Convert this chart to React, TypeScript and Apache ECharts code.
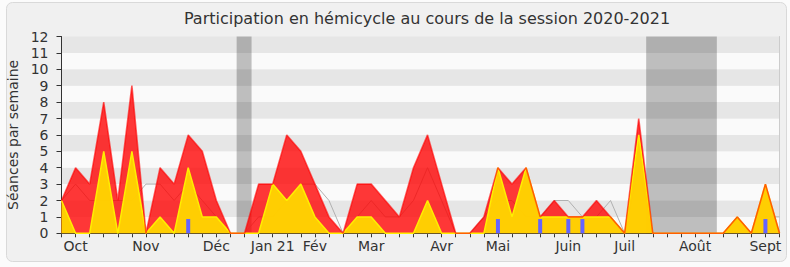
import React, { useEffect, useRef } from 'react';
import * as echarts from 'echarts';

// Month labels and the week index where each is centred
const monthNames = ['Oct', 'Nov', 'Déc', 'Jan 21', 'Fév', 'Mar', 'Avr', 'Mai', 'Juin', 'Juil', 'Août', 'Sept'];
const monthWeeks = [1, 6, 11, 15, 18, 22, 27, 31, 36, 40, 45, 50];

// Weekly values (52 weeks)
const presence = [2, 4, 3, 8, 2, 9, 0, 4, 3, 6, 5, 2, 0, 0, 3, 3, 6, 5, 3, 1, 0, 3, 3, 2, 1, 4, 6, 3, 0, 0, 1, 4, 3, 4, 1, 2, 1, 1, 2, 1, 0, 7, 0, 0, 0, 0, 0, 0, 1, 0, 3, 0];
const participation = [2, 0, 0, 5, 0, 5, 0, 1, 0, 4, 1, 1, 0, 0, 0, 3, 2, 3, 1, 0, 0, 1, 1, 0, 0, 0, 2, 0, 0, 0, 0, 4, 1, 4, 1, 1, 1, 1, 1, 1, 0, 6, 0, 0, 0, 0, 0, 0, 1, 0, 3, 0];
const median = [2, 3, 2, 2, 2, 2, 3, 3, 2, 3, 2, 1, 0, 0, 1, 1, 2, 3, 3, 2, 0, 1, 2, 1, 1, 2, 4, 2, 0, 0, 1, 2, 2, 1, 1, 2, 2, 1, 1, 2, 0, 4, 0, 0, 0, 0, 0, 0, 1, 0, 1, 1];
const questions = [0, 0, 0, 0, 0, 0, 0, 0, 0, 0.87, 0, 0, 0, 0, 0, 0, 0, 0, 0, 0, 0, 0, 0, 0, 0, 0, 0, 0, 0, 0, 0, 0.87, 0, 0, 0.87, 0, 0.87, 0.87, 0, 0, 0, 0, 0, 0, 0, 0, 0, 0, 0, 0, 0.87, 0];

// Parliamentary breaks (in week units)
const vacationStart = [12.44, 41.53];
const vacationEnd = [13.5, 46.55];

const FONT = 'DejaVu Sans';

export default function App() {
  const ref = useRef<HTMLDivElement>(null);

  useEffect(() => {
    const chart = echarts.init(ref.current!, null, { renderer: 'svg' });
    const weekIds = presence.map((_, i) => 'S' + i);

    chart.setOption({
      animation: false,
      backgroundColor: '#fbfbfb',
      textStyle: { fontFamily: FONT },
      graphic: [
        {
          type: 'rect',
          z: -10,
          silent: true,
          shape: { x: 6.5, y: 2.5, width: 780, height: 259, r: 6 },
          style: { fill: '#f0f0f0', stroke: '#d9d9d9', lineWidth: 1 },
        },
        {
          type: 'text',
          x: 427,
          y: 18,
          silent: true,
          style: {
            text: 'Participation en hémicycle au cours de la session 2020-2021',
            font: `16px "${FONT}"`,
            fill: '#333',
            textAlign: 'center',
            textVerticalAlign: 'middle',
          },
        },
      ],
      grid: {
        left: 61.5,
        right: 10.5,
        top: 36.5,
        height: 196.8,
        containLabel: false,
        outerBoundsMode: 'none',
      },
      xAxis: [
        {
          type: 'category',
          data: weekIds,
          boundaryGap: false,
          position: 'bottom',
          axisLine: { lineStyle: { color: '#333', width: 1 } },
          axisTick: { interval: 0, length: 4, lineStyle: { color: '#333' } },
          axisLabel: {
            interval: 0,
            margin: 6,
            fontSize: 14,
            color: '#333',
            fontFamily: FONT,
            formatter: (_v: string, idx: number) => {
              const k = monthWeeks.indexOf(idx);
              return k >= 0 ? monthNames[k] : '';
            },
          },
          splitLine: { show: false },
        },
        {
          type: 'value',
          min: 0,
          max: presence.length - 1,
          interval: 1,
          position: 'top',
          axisLine: { show: false },
          axisTick: { show: true, inside: true, length: 2, lineStyle: { color: '#444' } },
          axisLabel: { show: false },
          splitLine: { show: false },
        },
      ],
      yAxis: [
        {
          type: 'value',
          min: 0,
          max: 12,
          interval: 1,
          name: 'Séances par semaine',
          nameLocation: 'middle',
          nameGap: 42,
          nameTextStyle: { fontSize: 14, color: '#333', fontFamily: FONT },
          axisLine: { show: true, lineStyle: { color: '#333' } },
          axisTick: { show: true, length: 5, lineStyle: { color: '#333' } },
          axisLabel: { fontSize: 14, color: '#333', margin: 13, fontFamily: FONT },
          splitLine: { show: false },
          splitArea: { show: true, areaStyle: { color: ['#fafafa', '#e6e6e6'] } },
        },
        {
          type: 'value',
          min: 0,
          max: 12,
          interval: 1,
          position: 'right',
          axisLine: { show: true, lineStyle: { color: '#cccccc' } },
          axisTick: { show: false },
          axisLabel: { show: false },
          splitLine: { show: false },
        },
      ],
      series: [
        {
          type: 'line',
          xAxisIndex: 1,
          data: median.map((v, i) => [i, v]),
          symbol: 'none',
          lineStyle: { color: '#b0b0b0', width: 1 },
          z: 1,
          markArea: {
            silent: true,
            itemStyle: { color: 'rgba(0,0,0,0.24)' },
            data: vacationStart.map((s, k) => [{ xAxis: s }, { xAxis: vacationEnd[k] }]),
          },
        },
        {
          type: 'line',
          data: presence,
          symbol: 'none',
          lineStyle: { width: 0, color: '#ff0000' },
          areaStyle: { color: 'rgba(255,0,0,0.78)', opacity: 1 },
          z: 2,
        },
        {
          type: 'line',
          data: participation,
          symbol: 'none',
          lineStyle: { color: '#ffee00', width: 1.5 },
          areaStyle: { color: 'rgba(255,212,0,0.96)', opacity: 1 },
          z: 3,
        },
        {
          type: 'line',
          data: presence,
          symbol: 'none',
          lineStyle: { color: 'rgba(255,0,0,0.6)', width: 1.6 },
          z: 4,
        },
        {
          type: 'bar',
          data: questions,
          barWidth: 4,
          itemStyle: { color: '#6464ff' },
          z: 5,
        },
      ],
    });

    return () => chart.dispose();
  }, []);

  return <div ref={ref} style={{ position: 'fixed', left: 0, top: 0, width: 790, height: 267 }} />;
}
